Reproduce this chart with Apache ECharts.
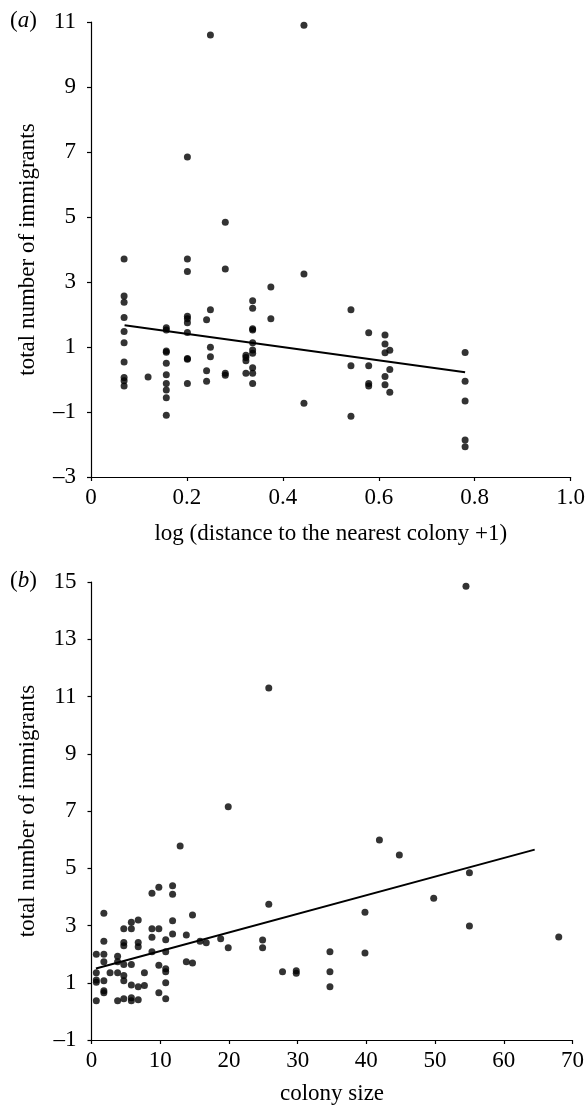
<!DOCTYPE html>
<html><head><meta charset="utf-8">
<script src="https://cdn.jsdelivr.net/npm/echarts@6/dist/echarts.min.js"></script>
<style>html,body{margin:0;padding:0;background:#fff}#c{width:588px;height:1108px}</style>
</head><body><div id="c"></div>
<script>
// Panel (a): log(distance to nearest colony + 1) vs total number of immigrants
const aDist = [
  0.069,0.069,0.069,0.069,0.069,0.069,0.069,0.069,0.069,0.069,
  0.119,
  0.157,0.157,0.157,0.157,0.157,0.157,0.157,0.157,0.157,0.157,
  0.201,0.201,0.201,0.201,0.201,0.201,0.201,0.201,0.201,0.201,
  0.241,0.241,0.241,
  0.249,0.249,0.249,0.249,
  0.280,0.280,0.280,0.280,
  0.323,0.323,0.323,0.323,
  0.337,0.337,0.337,0.337,0.337,0.337,0.337,0.337,0.337,0.337,
  0.375,0.375,
  0.444,0.444,0.444,
  0.542,0.542,0.542,
  0.579,0.579,0.579,0.579,
  0.613,0.613,0.613,0.613,0.613,
  0.623,0.623,0.623,
  0.780,0.780,0.780,0.780,0.780
];
const aImm = [
  3.71,2.57,2.38,1.91,1.48,1.13,0.54,0.06,-0.04,-0.20,
  0.08,
  1.59,1.52,0.88,0.84,0.50,0.15,-0.12,-0.32,-0.56,-1.10,
  6.85,3.71,3.32,1.95,1.87,1.75,1.45,0.65,0.62,-0.12,
  1.84,0.27,-0.05,
  10.6,2.15,0.99,0.70,
  4.84,3.40,0.19,0.13,
  0.75,0.68,0.58,0.19,
  2.42,2.19,1.56,1.52,1.13,0.91,0.81,0.36,0.19,-0.12,
  2.85,1.87,
  10.9,3.25,-0.73,
  2.15,0.42,-1.13,
  1.44,0.42,-0.12,-0.20,
  1.37,1.09,0.82,0.09,-0.16,
  0.90,0.31,-0.39,
  0.83,-0.05,-0.66,-1.86,-2.07
];
const aFitX = [0.07, 0.78];
const aFitY = [1.67, 0.22];
const aXTicks = [0, 0.2, 0.4, 0.6, 0.8, 1.0];
const aYTicks = [-3, -1, 1, 3, 5, 7, 9, 11];

// Panel (b): colony size vs total number of immigrants
const bSize = [
  0.7,0.7,0.7,0.7,0.7,
  1.8,1.8,1.8,1.8,1.8,1.8,1.8,
  2.7,
  3.8,3.8,3.8,3.8,
  4.7,4.7,4.7,4.7,4.7,4.7,4.7,
  5.8,5.8,5.8,5.8,5.8,5.8,
  6.8,6.8,6.8,6.8,6.8,
  7.7,7.7,
  8.8,8.8,8.8,8.8,
  9.8,9.8,9.8,9.8,
  10.8,10.8,10.8,10.8,10.8,10.8,
  11.8,11.8,11.8,11.8,
  12.9,
  13.8,13.8,
  14.7,14.7,
  15.8,16.7,18.8,
  19.9,19.9,
  24.9,24.9,
  25.8,25.8,
  27.8,
  29.8,29.8,
  34.7,34.7,34.7,
  39.8,39.8,
  41.9,44.8,49.8,
  54.5,55.0,55.0,
  68.0
];
const bImm = [
  2.00,1.35,1.10,1.02,0.37,
  3.43,2.45,2.00,1.73,1.07,0.72,0.65,
  1.35,
  1.93,1.73,1.35,0.37,
  2.89,2.41,2.29,1.64,1.25,1.07,0.44,
  3.11,2.89,1.64,0.92,0.48,0.37,
  3.19,2.41,2.26,0.86,0.41,
  1.35,0.90,
  4.13,2.89,2.59,2.08,
  4.34,2.89,1.61,0.65,
  2.50,2.08,1.49,1.38,1.00,0.44,
  4.39,4.09,3.17,2.70,
  5.78,
  2.67,1.73,
  3.37,1.69,
  2.45,2.40,2.54,
  7.15,2.22,
  2.49,2.22,
  11.3,3.74,
  1.38,
  1.42,1.33,
  2.08,1.38,0.86,
  3.46,2.04,
  5.99,5.46,3.95,
  14.85,4.84,2.98,
  2.6
];
const bFitX = [0.65, 64.5];
const bFitY = [1.50, 5.65];
const bXTicks = [0, 10, 20, 30, 40, 50, 60, 70];
const bYTicks = [-1, 1, 3, 5, 7, 9, 11, 13, 15];

const FONT = '"Liberation Serif", "DejaVu Serif", serif';
const FS = 23;
const pts = (xs, ys) => xs.map((x, i) => [x, ys[i]]);
const minus = v => String(v).replace('-', '\u2013');

function xAxisCfg(idx, ticks, name, fmt, gap) {
  return {
    type: 'value', gridIndex: idx,
    min: ticks[0], max: ticks[ticks.length - 1], interval: ticks[1] - ticks[0],
    name: name, nameLocation: 'middle', nameGap: gap,
    nameTextStyle: { fontFamily: FONT, fontSize: FS, color: '#000' },
    axisLine: { onZero: false, lineStyle: { color: '#000', width: 1.2 } },
    axisTick: { inside: false, length: 4, lineStyle: { color: '#000', width: 1.2 } },
    axisLabel: { fontFamily: FONT, fontSize: FS, color: '#000', margin: 9, formatter: fmt },
    splitLine: { show: false }
  };
}
function yAxisCfg(idx, ticks, name) {
  return {
    type: 'value', gridIndex: idx,
    min: ticks[0], max: ticks[ticks.length - 1], interval: ticks[1] - ticks[0],
    name: name, nameLocation: 'middle', nameGap: 52, nameRotate: 90,
    nameTextStyle: { fontFamily: FONT, fontSize: FS, color: '#000' },
    axisLine: { show: true, onZero: false, lineStyle: { color: '#000', width: 1.2 } },
    axisTick: { show: true, inside: false, length: 4, lineStyle: { color: '#000', width: 1.2 } },
    axisLabel: { fontFamily: FONT, fontSize: FS, color: '#000', margin: 15, formatter: v => minus(v) },
    splitLine: { show: false }
  };
}

const chart = echarts.init(document.getElementById('c'), null, { renderer: 'canvas' });
chart.setOption({
  backgroundColor: '#fff',
  animation: false,
  grid: [
    { left: 91, top: 22, width: 481, height: 455 },
    { left: 91.5, top: 582, width: 481, height: 458 }
  ],
  xAxis: [
    xAxisCfg(0, aXTicks, 'log (distance to the nearest colony +1)', v => v === 0 ? '0' : v.toFixed(1), 45),
    xAxisCfg(1, bXTicks, 'colony size', v => String(v), 42)
  ],
  yAxis: [
    yAxisCfg(0, aYTicks, 'total number of immigrants'),
    yAxisCfg(1, bYTicks, 'total number of immigrants')
  ],
  graphic: [
    { type: 'text', left: 10, top: 9, style: { text: '({i|a})', font: FS + 'px ' + FONT, fill: '#000',
      rich: { i: { fontStyle: 'italic', fontFamily: FONT, fontSize: FS } } } },
    { type: 'text', left: 10, top: 569, style: { text: '({i|b})', font: FS + 'px ' + FONT, fill: '#000',
      rich: { i: { fontStyle: 'italic', fontFamily: FONT, fontSize: FS } } } }
  ],
  series: [
    { type: 'scatter', xAxisIndex: 0, yAxisIndex: 0, data: pts(aDist, aImm),
      symbol: 'circle', symbolSize: 7, itemStyle: { color: '#000' } },
    { type: 'line', xAxisIndex: 0, yAxisIndex: 0, data: pts(aFitX, aFitY),
      symbol: 'none', lineStyle: { color: '#000', width: 2 }, silent: true },
    { type: 'scatter', xAxisIndex: 1, yAxisIndex: 1, data: pts(bSize, bImm),
      symbol: 'circle', symbolSize: 7, itemStyle: { color: '#000' } },
    { type: 'line', xAxisIndex: 1, yAxisIndex: 1, data: pts(bFitX, bFitY),
      symbol: 'none', lineStyle: { color: '#000', width: 2 }, silent: true }
  ]
});
</script></body></html>
